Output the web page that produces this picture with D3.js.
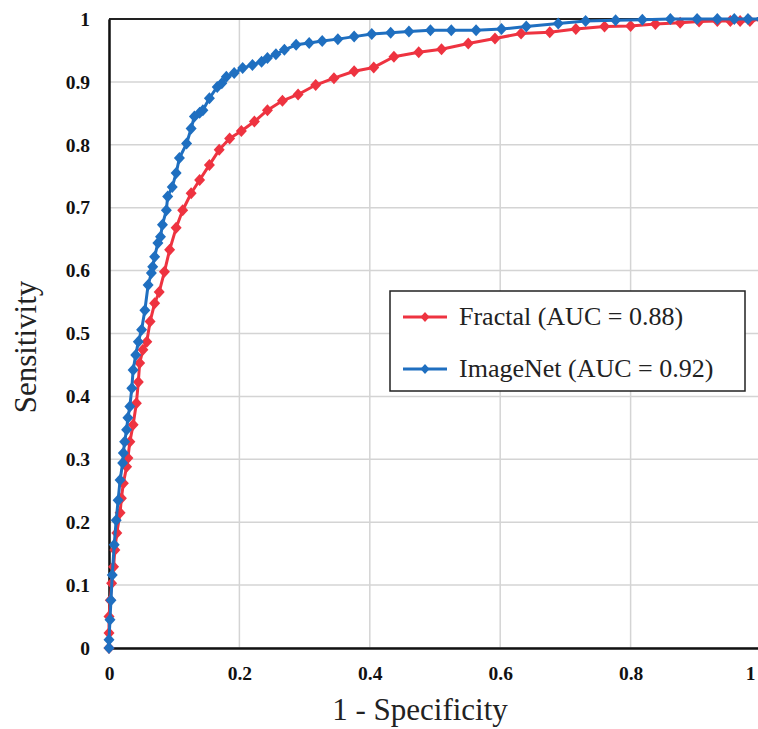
<!DOCTYPE html>
<html><head><meta charset="utf-8">
<script src="https://cdn.jsdelivr.net/npm/d3@7"></script>
<style>html,body{margin:0;padding:0;background:#fff;}svg{display:block;}</style>
</head><body>
<svg id="chart" width="758" height="729"></svg>
<script>
const seriesNames = ["Fractal (AUC = 0.88)", "ImageNet (AUC = 0.92)"];
const seriesColors = ["#ee3340", "#1f6fc0"];
const xTicks = [0, 0.2, 0.4, 0.6, 0.8, 1];
const yTicks = [0, 0.1, 0.2, 0.3, 0.4, 0.5, 0.6, 0.7, 0.8, 0.9, 1];
const fractalFPR = [0,0,0,0.002,0.004,0.007,0.009,0.012,0.017,0.019,0.022,0.027,0.029,0.032,0.037,0.042,0.045,0.047,0.052,0.058,0.063,0.070,0.077,0.085,0.093,0.103,0.113,0.126,0.139,0.154,0.169,0.185,0.203,0.223,0.243,0.266,0.290,0.317,0.345,0.376,0.406,0.437,0.475,0.510,0.551,0.592,0.632,0.676,0.716,0.760,0.800,0.838,0.876,0.905,0.933,0.953,0.968,0.983,1.0];
const fractalTPR = [0,0.024,0.05,0.076,0.103,0.129,0.156,0.183,0.215,0.238,0.262,0.288,0.302,0.328,0.355,0.389,0.423,0.453,0.474,0.487,0.519,0.548,0.566,0.598,0.633,0.668,0.696,0.723,0.744,0.768,0.792,0.810,0.822,0.837,0.855,0.870,0.880,0.895,0.906,0.917,0.923,0.940,0.947,0.952,0.961,0.969,0.977,0.979,0.984,0.988,0.989,0.992,0.994,0.996,0.997,0.997,0.997,0.997,1.0];
const imagenetFPR = [0,0,0.0015,0.003,0.005,0.008,0.011,0.014,0.017,0.021,0.022,0.024,0.027,0.029,0.032,0.035,0.037,0.041,0.045,0.050,0.055,0.060,0.065,0.067,0.070,0.075,0.079,0.082,0.088,0.090,0.097,0.103,0.108,0.119,0.126,0.131,0.139,0.144,0.154,0.166,0.173,0.180,0.192,0.205,0.220,0.234,0.243,0.256,0.269,0.287,0.307,0.327,0.351,0.376,0.403,0.432,0.460,0.493,0.525,0.563,0.602,0.640,0.689,0.731,0.777,0.818,0.861,0.902,0.933,0.959,0.980,1.0];
const imagenetTPR = [0,0.013,0.045,0.076,0.116,0.164,0.203,0.235,0.267,0.294,0.310,0.328,0.347,0.366,0.384,0.413,0.442,0.466,0.487,0.506,0.537,0.577,0.596,0.606,0.622,0.644,0.654,0.673,0.696,0.718,0.733,0.755,0.779,0.802,0.826,0.845,0.851,0.855,0.874,0.892,0.898,0.908,0.914,0.922,0.927,0.932,0.938,0.944,0.951,0.959,0.962,0.965,0.968,0.972,0.976,0.978,0.980,0.982,0.982,0.982,0.984,0.988,0.993,0.997,0.998,0.999,1.0,1.0,1.0,1.0,1.0,1.0];

const series = [
  {name: seriesNames[0], color: seriesColors[0], pts: fractalFPR.map((v,i)=>[v, fractalTPR[i]])},
  {name: seriesNames[1], color: seriesColors[1], pts: imagenetFPR.map((v,i)=>[v, imagenetTPR[i]])}
];

const svg = d3.select("#chart");
const L = 109, R = 761, T = 19, B = 648;
const x = d3.scaleLinear().domain([0,1]).range([L,R]);
const y = d3.scaleLinear().domain([0,1]).range([B,T]);
const serif = "'Liberation Serif','Times New Roman',serif";

// grid
svg.append("g").selectAll("line").data(xTicks).join("line")
  .attr("x1", d=>x(d)).attr("x2", d=>x(d)).attr("y1", T).attr("y2", B)
  .attr("stroke", "#d4d4d4").attr("stroke-width", 1.5);
svg.append("g").selectAll("line").data(yTicks).join("line")
  .attr("x1", L).attr("x2", R).attr("y1", d=>y(d)).attr("y2", d=>y(d))
  .attr("stroke", "#d4d4d4").attr("stroke-width", 1.5);

// frame
svg.append("line").attr("x1", L).attr("x2", R).attr("y1", T).attr("y2", T).attr("stroke", "#222").attr("stroke-width", 2);
svg.append("line").attr("x1", R).attr("x2", R).attr("y1", T).attr("y2", B).attr("stroke", "#222").attr("stroke-width", 2);

// axes
const xAxis = svg.append("g").attr("transform", `translate(0,${B})`)
  .call(d3.axisBottom(x).tickValues(xTicks).tickSize(0).tickPadding(18).tickFormat(d3.format("~g")));
const yAxis = svg.append("g").attr("transform", `translate(${L},0)`)
  .call(d3.axisLeft(y).tickValues(yTicks).tickSize(0).tickPadding(19).tickFormat(d3.format("~g")));
[xAxis, yAxis].forEach(a => {
  a.select(".domain").attr("stroke", "#111").attr("stroke-width", 2.5);
  a.selectAll("text").attr("font-family", serif).attr("font-weight", "bold").attr("font-size", 19.5).attr("fill", "#111");
});
// keep the last x label inside the canvas
xAxis.selectAll(".tick").filter(d => d === 1).select("text")
  .attr("text-anchor", "end").attr("dx", 755 - x(1));

// lines and markers
const line = d3.line().x(d=>x(d[0])).y(d=>y(d[1]));
const diamond = "M0,-6L5.5,0L0,6L-5.5,0Z";
series.forEach(s => {
  svg.append("path").datum(s.pts).attr("d", line).attr("fill", "none")
    .attr("stroke", s.color).attr("stroke-width", 3).attr("stroke-linejoin", "round");
  svg.append("g").selectAll("path").data(s.pts).join("path")
    .attr("d", diamond).attr("transform", d=>`translate(${x(d[0])},${y(d[1])})`)
    .attr("fill", s.color);
});

// axis titles
svg.append("text").attr("x", 420).attr("y", 720).attr("text-anchor", "middle")
  .attr("font-family", serif).attr("font-size", 31).attr("fill", "#222").text("1 - Specificity");
svg.append("text").attr("transform", "translate(36,347) rotate(-90)").attr("text-anchor", "middle")
  .attr("font-family", serif).attr("font-size", 31).attr("fill", "#222").text("Sensitivity");

// legend
const lg = svg.append("g");
lg.append("rect").attr("x", 390).attr("y", 291).attr("width", 355).attr("height", 100)
  .attr("fill", "#fff").attr("stroke", "#222").attr("stroke-width", 1.5);
series.forEach((s, i) => {
  const ly = 317 + i * 52;
  lg.append("line").attr("x1", 403).attr("x2", 447).attr("y1", ly).attr("y2", ly)
    .attr("stroke", s.color).attr("stroke-width", 3);
  lg.append("path").attr("d", "M0,-5L4.5,0L0,5L-4.5,0Z").attr("transform", `translate(425,${ly})`).attr("fill", s.color);
  lg.append("text").attr("x", 459).attr("y", ly + 8).attr("font-family", serif).attr("font-size", 26)
    .attr("fill", "#222").text(s.name);
});
</script>
</body></html>
